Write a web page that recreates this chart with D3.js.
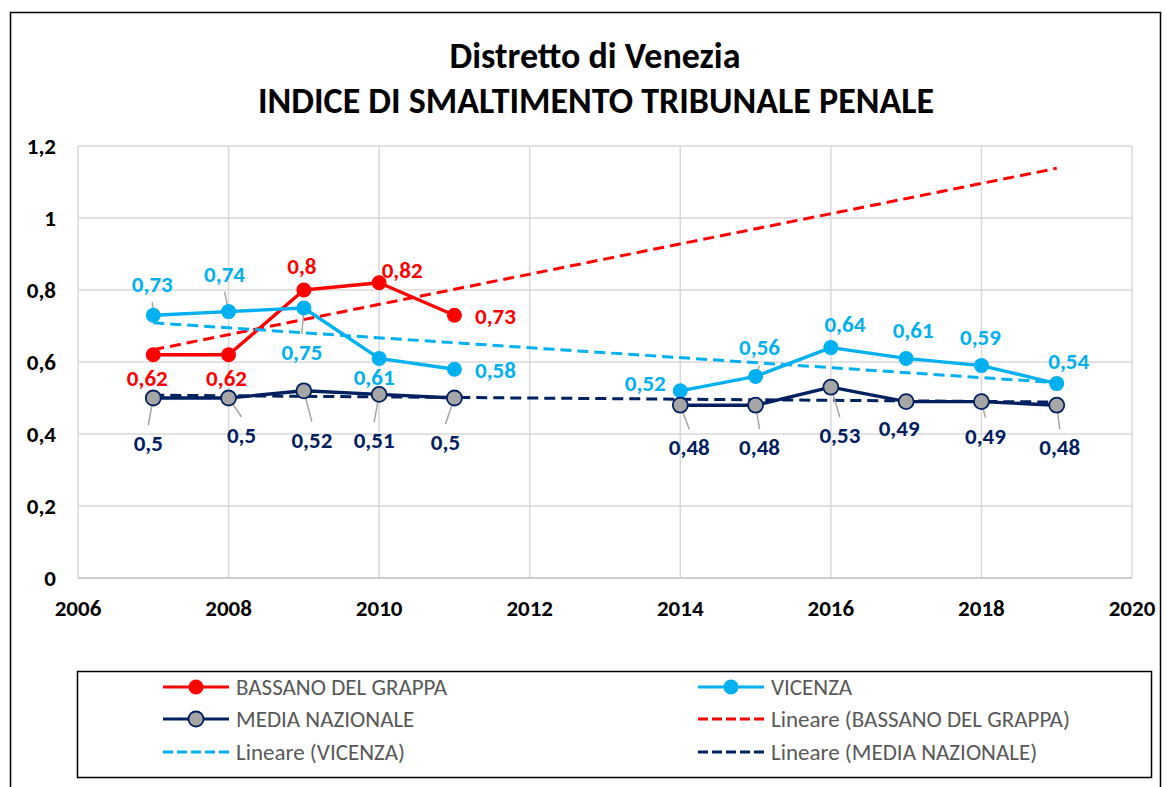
<!DOCTYPE html>
<html>
<head>
<meta charset="utf-8">
<script src="https://cdn.jsdelivr.net/npm/d3@7"></script>
<style>
  body { margin: 0; background: #fff; }
  text { font-family: Carlito, Calibri, "Open Sans", sans-serif; }
</style>
</head>
<body>
<div id="chart"></div>
<script>
const years = [2007, 2008, 2009, 2010, 2011, 2012, 2013, 2014, 2015, 2016, 2017, 2018, 2019];
const bassano = [0.62, 0.62, 0.80, 0.82, 0.73, null, null, null, null, null, null, null, null];
const vicenza = [0.73, 0.74, 0.75, 0.61, 0.58, null, null, 0.52, 0.56, 0.64, 0.61, 0.59, 0.54];
const media = [0.50, 0.50, 0.52, 0.51, 0.50, null, null, 0.48, 0.48, 0.53, 0.49, 0.49, 0.48];
const xTicks = [2006, 2008, 2010, 2012, 2014, 2016, 2018, 2020];
const yTicks = [0, 0.2, 0.4, 0.6, 0.8, 1, 1.2];

// label offsets (px) from each marker, and whether Excel drew a leader line
const bassanoLab = [[-6, 23], [-2, 23], [-2, -24], [23, -13], [41, 1]];
const vicenzaLab = [[-1, -31], [-4, -38], [-2, 44], [-5, 19], [41, 1], null, null, [-35, -8], [4, -29], [14, -24], [7, -28], [-1, -29], [12, -23]];
const mediaLab = [[-5, 45], [13, 37], [8, 49], [-5, 46], [-9, 44], null, null, [9, 42], [4, 42], [9, 48], [-7, 26], [4, 34], [3, 42]];
const vicenzaLeader = [1, 1, 1, 0, 0, 0, 0, 0, 1, 0, 0, 0, 0];
const mediaLeader = [1, 1, 1, 1, 1, 0, 0, 1, 1, 1, 0, 1, 1];

const series = [
    { name: "BASSANO DEL GRAPPA", values: bassano, color: "#FF0000", fill: "#FF0000", lab: bassanoLab, leader: [] },
    { name: "VICENZA", values: vicenza, color: "#00B0F0", fill: "#00B0F0", lab: vicenzaLab, leader: vicenzaLeader },
    { name: "MEDIA NAZIONALE", values: media, color: "#002060", fill: "#A6A6A6", lab: mediaLab, leader: mediaLeader }
];

const W = 1167, H = 787;
const svg = d3.select("#chart").append("svg")
    .attr("width", W).attr("height", H);

// outer chart border
svg.append("path")
    .attr("d", "M10.5,800 V12.5 H1160.5 V800")
    .attr("fill", "none").attr("stroke", "#000").attr("stroke-width", 1.5);

const x = d3.scaleLinear().domain([2006, 2020]).range([78, 1132]);
const y = d3.scaleLinear().domain([0, 1.2]).range([578, 146]);
const comma = v => String(+v.toFixed(2)).replace(".", ",");

// gridlines
svg.append("g").selectAll("line").data(yTicks.slice(1)).join("line")
    .attr("x1", x(2006)).attr("x2", x(2020))
    .attr("y1", d => y(d)).attr("y2", d => y(d))
    .attr("stroke", "#D9D9D9").attr("stroke-width", 1.5);
svg.append("g").selectAll("line").data(xTicks).join("line")
    .attr("x1", d => x(d)).attr("x2", d => x(d))
    .attr("y1", y(1.2)).attr("y2", y(0))
    .attr("stroke", "#D9D9D9").attr("stroke-width", 1.5);
svg.append("line")
    .attr("x1", x(2006)).attr("x2", x(2020)).attr("y1", y(0)).attr("y2", y(0))
    .attr("stroke", "#BFBFBF").attr("stroke-width", 1.5);

// tick labels
svg.append("g").selectAll("text").data(yTicks).join("text")
    .attr("x", 56).attr("y", d => y(d)).attr("dy", "0.35em")
    .attr("text-anchor", "end").attr("font-size", 23).attr("font-weight", "bold")
    .text(d => comma(d));
svg.append("g").selectAll("text").data(xTicks).join("text")
    .attr("x", d => x(d)).attr("y", 608).attr("dy", "0.35em")
    .attr("text-anchor", "middle").attr("font-size", 23).attr("font-weight", "bold")
    .text(d => d);

// title
svg.append("text").attr("x", 595).attr("y", 55).attr("dy", "0.35em")
    .attr("text-anchor", "middle").attr("font-size", 36).attr("font-weight", "bold")
    .text("Distretto di Venezia");
svg.append("text").attr("x", 596).attr("y", 100).attr("dy", "0.35em")
    .attr("text-anchor", "middle").attr("font-size", 36).attr("font-weight", "bold")
    .text("INDICE DI SMALTIMENTO TRIBUNALE PENALE");

const line = d3.line()
    .defined(d => d.v != null)
    .x(d => x(d.year)).y(d => y(d.v));

function pts(s) {
    return years.map((yr, i) => ({ year: yr, v: s.values[i], i }));
}

// linear trend (least squares) drawn over the full year span
function trend(s) {
    const p = pts(s).filter(d => d.v != null);
    const mx = d3.mean(p, d => d.year), my = d3.mean(p, d => d.v);
    const slope = d3.sum(p, d => (d.year - mx) * (d.v - my)) / d3.sum(p, d => (d.year - mx) ** 2);
    const f = t => my + slope * (t - mx);
    return [{ year: years[0], v: f(years[0]) }, { year: years[years.length - 1], v: f(years[years.length - 1]) }];
}

// series lines
series.forEach(s => {
    svg.append("path").datum(pts(s)).attr("d", line)
        .attr("fill", "none").attr("stroke", s.color).attr("stroke-width", 3.4)
        .attr("stroke-linejoin", "round");
});

// trend lines
series.forEach(s => {
    svg.append("path").datum(trend(s)).attr("d", line)
        .attr("fill", "none").attr("stroke", s.color).attr("stroke-width", 3)
        .attr("stroke-dasharray", "11,6");
});

// leader lines
series.forEach(s => {
    const p = pts(s).filter(d => d.v != null && s.leader[d.i]);
    svg.append("g").selectAll("line").data(p).join("line")
        .attr("x1", d => x(d.year)).attr("y1", d => y(d.v))
        .attr("x2", d => x(d.year) + s.lab[d.i][0])
        .attr("y2", d => y(d.v) + s.lab[d.i][1] - Math.sign(s.lab[d.i][1]) * 18)
        .attr("stroke", "#A6A6A6").attr("stroke-width", 1.5);
});

// markers
series.forEach(s => {
    svg.append("g").selectAll("circle").data(pts(s).filter(d => d.v != null)).join("circle")
        .attr("cx", d => x(d.year)).attr("cy", d => y(d.v)).attr("r", 7.5)
        .attr("fill", s.fill)
        .attr("stroke", s.color).attr("stroke-width", s.fill === s.color ? 0 : 1.8);
});

// data labels
series.forEach(s => {
    svg.append("g").selectAll("text").data(pts(s).filter(d => d.v != null)).join("text")
        .attr("x", d => x(d.year) + s.lab[d.i][0])
        .attr("y", d => y(d.v) + s.lab[d.i][1]).attr("dy", "0.35em")
        .attr("text-anchor", "middle").attr("font-size", 23).attr("font-weight", "bold")
        .attr("fill", s.color)
        .text(d => comma(d.v));
});

// legend
svg.append("rect").attr("x", 77.5).attr("y", 671.5).attr("width", 1074).attr("height", 106)
    .attr("fill", "#fff").attr("stroke", "#000").attr("stroke-width", 1.5);
const legendItems = [
    { label: "BASSANO DEL GRAPPA", s: series[0], dash: false, col: 0, row: 0 },
    { label: "VICENZA", s: series[1], dash: false, col: 1, row: 0 },
    { label: "MEDIA NAZIONALE", s: series[2], dash: false, col: 0, row: 1 },
    { label: "Lineare (BASSANO DEL GRAPPA)", s: series[0], dash: true, col: 1, row: 1 },
    { label: "Lineare (VICENZA)", s: series[1], dash: true, col: 0, row: 2 },
    { label: "Lineare (MEDIA NAZIONALE)", s: series[2], dash: true, col: 1, row: 2 }
];
const colX = [163, 698], rowY = [687, 719, 752];
const lg = svg.append("g").selectAll("g").data(legendItems).join("g")
    .attr("transform", d => `translate(${colX[d.col]},${rowY[d.row]})`);
lg.append("line").attr("x1", 0).attr("x2", 66).attr("y1", 0).attr("y2", 0)
    .attr("stroke", d => d.s.color).attr("stroke-width", 3)
    .attr("stroke-dasharray", d => d.dash ? "10,4" : null);
lg.filter(d => !d.dash).append("circle").attr("cx", 33).attr("cy", 0).attr("r", 7.5)
    .attr("fill", d => d.s.fill).attr("stroke", d => d.s.color)
    .attr("stroke-width", d => d.s.fill === d.s.color ? 0 : 1.8);
lg.append("text").attr("x", 73).attr("y", 0).attr("dy", "0.35em")
    .attr("font-size", 23).attr("fill", "#595959")
    .text(d => d.label);
</script>
</body>
</html>
